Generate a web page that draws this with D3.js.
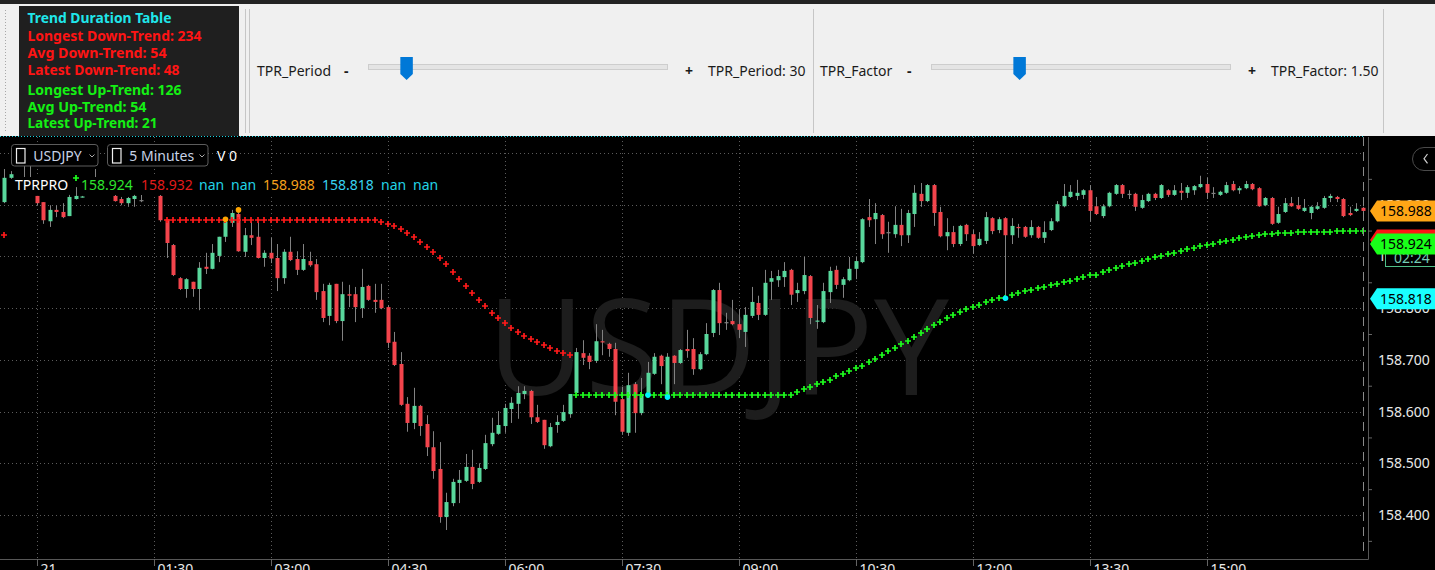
<!DOCTYPE html>
<html>
<head>
<meta charset="utf-8">
<script src="https://cdn.jsdelivr.net/npm/d3@7"></script>
<style>
  html, body { margin: 0; padding: 0; background: #000; overflow: hidden; }
  svg { display: block; }
</style>
</head>
<body>
<svg id="chart" width="1435" height="570"></svg>
<script>
// ─── data ────────────────────────────────────────────────────────────────
const symbol = 'USDJPY';
const timeframe = '5 Minutes';
const volumeLabel = 'V 0';
const indicatorName = 'TPRPRO';

const firstBarTime = '2024-06-20 23:35';
const barMinutes = 5;

// [open, high, low, close] per 5-minute bar
const ohlc = [
  [159.005,159.069,159.003,159.052],[159.052,159.065,159.050,159.059],[159.040,159.046,159.036,159.042],
  [159.036,159.075,159.028,159.048],[159.048,159.075,159.025,159.032],
  [159.017,159.017,158.999,159.003],[159.005,159.005,158.963,158.970],[158.968,158.999,158.957,158.990],
  [158.990,158.999,158.976,158.986],[158.986,159.003,158.974,158.976],[158.978,159.019,158.978,159.015],
  [159.011,159.034,159.010,159.017],[159.015,159.017,159.014,159.016],[159.030,159.046,159.028,159.040],
  [159.040,159.069,159.025,159.032],[159.032,159.036,159.026,159.030],[159.030,159.034,159.022,159.025],
  [159.017,159.019,159.006,159.007],[159.011,159.015,158.999,159.003],[159.003,159.015,158.996,159.013],
  [159.011,159.019,158.996,159.017],[159.009,159.019,159.005,159.009],[159.024,159.040,159.022,159.032],
  [159.032,159.042,159.022,159.024],[159.017,159.021,158.967,158.970],[158.972,158.972,158.897,158.926],
  [158.922,158.924,158.862,158.864],[158.858,158.860,158.835,158.837],[158.837,158.858,158.820,158.856],
  [158.851,158.851,158.822,158.837],[158.837,158.889,158.796,158.878],[158.880,158.907,158.866,158.876],
  [158.876,158.924,158.875,158.907],[158.901,158.938,158.889,158.938],[158.938,158.970,158.928,158.967],
  [158.965,158.990,158.957,158.984],[158.982,158.988,158.909,158.910],[158.909,158.955,158.899,158.941],
  [158.941,158.967,158.922,158.936],[158.938,158.967,158.896,158.897],[158.897,158.912,158.880,158.907],
  [158.907,158.936,158.887,158.896],[158.897,158.924,158.833,158.858],[158.858,158.914,158.847,158.909],
  [158.909,158.938,158.891,158.893],[158.895,158.910,158.864,158.874],[158.874,158.924,158.872,158.895],
  [158.891,158.909,158.880,158.883],[158.885,158.895,158.816,158.831],[158.833,158.847,158.773,158.781],
  [158.785,158.849,158.767,158.845],[158.847,158.847,158.771,158.775],[158.775,158.851,158.737,158.827],
  [158.827,158.845,158.802,158.824],[158.827,158.841,158.773,158.802],[158.800,158.876,158.781,158.841],
  [158.843,158.845,158.814,158.816],[158.816,158.847,158.791,158.812],[158.816,158.847,158.798,158.800],
  [158.802,158.806,158.723,158.733],[158.735,158.754,158.688,158.690],[158.692,158.715,158.611,158.613],
  [158.615,158.628,158.561,158.578],[158.578,158.646,158.566,158.611],[158.611,158.613,158.553,158.572],
  [158.576,158.593,158.514,158.531],[158.531,158.562,158.470,158.485],[158.489,158.541,158.385,158.396],
  [158.396,158.443,158.371,158.425],[158.423,158.470,158.417,158.464],[158.462,158.487,158.423,158.468],
  [158.466,158.518,158.464,158.493],[158.493,158.526,158.450,158.460],[158.464,158.500,158.462,158.491],
  [158.489,158.555,158.487,158.539],[158.537,158.588,158.533,158.559],[158.557,158.601,158.555,158.574],
  [158.572,158.615,158.559,158.607],[158.605,158.628,158.578,158.617],[158.615,158.649,158.586,158.636],
  [158.634,158.649,158.624,158.640],[158.640,158.642,158.576,158.589],[158.589,158.613,158.578,158.580],
  [158.584,158.584,158.528,158.535],[158.533,158.578,158.531,158.570],[158.574,158.593,158.559,158.580],
  [158.582,158.613,158.580,158.599],[158.595,158.634,158.588,158.634],[158.636,158.723,158.634,158.715],
  [158.713,158.738,158.690,158.704],[158.708,158.713,158.682,158.696],[158.698,158.769,158.694,158.736],
  [158.736,158.758,158.709,158.735],[158.731,158.733,158.706,158.721],[158.721,158.733,158.593,158.619],
  [158.624,158.648,158.555,158.561],[158.559,158.675,158.553,158.651],[158.653,158.657,158.559,158.597],
  [158.597,158.665,158.593,158.634],[158.634,158.696,158.632,158.675],[158.673,158.713,158.671,158.706],
  [158.708,158.710,158.653,158.688],[158.628,158.713,158.628,158.706],[158.708,158.709,158.653,158.694],
  [158.694,158.721,158.692,158.719],[158.721,158.758,158.704,158.717],[158.721,158.742,158.671,158.682],
  [158.682,158.715,158.680,158.711],[158.711,158.771,158.709,158.750],[158.752,158.837,158.744,158.835],
  [158.835,158.849,158.748,158.771],[158.773,158.791,158.758,158.773],[158.775,158.816,158.767,158.769],
  [158.769,158.798,158.742,158.758],[158.754,158.802,158.725,158.787],[158.785,158.841,158.781,158.812],
  [158.810,158.824,158.777,158.787],[158.787,158.874,158.785,158.849],[158.851,158.872,158.816,158.858],
  [158.854,158.874,158.841,158.862],[158.860,158.889,158.841,158.872],[158.874,158.876,158.806,158.826],
  [158.829,158.849,158.812,158.835],[158.833,158.899,158.827,158.864],[158.862,158.864,158.769,158.781],
  [158.775,158.806,158.760,158.776],[158.773,158.849,158.771,158.833],[158.831,158.880,158.810,158.872],
  [158.874,158.882,158.837,158.845],[158.845,158.860,158.820,158.856],[158.854,158.899,158.852,158.876],
  [158.876,158.899,158.856,158.891],[158.889,158.974,158.887,158.972],[158.976,159.011,158.957,158.970],
  [158.972,159.003,158.924,158.984],[158.980,158.982,158.934,158.943],[158.947,158.967,158.907,158.947],
  [158.943,158.997,158.936,158.961],[158.961,158.992,158.920,158.941],[158.941,158.990,158.926,158.984],
  [158.982,159.038,158.957,159.023],[159.021,159.042,158.996,159.007],[159.007,159.040,159.005,159.038],
  [159.038,159.040,158.959,158.984],[158.986,158.996,158.937,158.939],[158.939,158.974,158.912,158.947],
  [158.947,158.959,158.918,158.924],[158.924,158.961,158.920,158.959],[158.961,158.963,158.930,158.943],
  [158.943,158.951,158.905,158.920],[158.922,158.947,158.920,158.934],[158.930,158.986,158.924,158.976],
  [158.974,158.976,158.943,158.949],[158.951,158.976,158.945,158.972],[158.974,158.976,158.818,158.941],
  [158.941,158.974,158.924,158.959],[158.957,158.963,158.936,158.956],[158.957,158.959,158.936,158.938],
  [158.941,158.970,158.936,158.957],[158.957,158.959,158.934,158.936],[158.936,158.968,158.926,158.947],
  [158.951,158.974,158.949,158.968],[158.968,159.007,158.966,159.001],[158.997,159.040,158.995,159.017],
  [159.015,159.038,159.013,159.025],[159.017,159.048,159.009,159.023],[159.019,159.030,159.011,159.028],
  [159.028,159.038,158.967,158.988],[158.997,159.015,158.980,158.982],[158.978,159.001,158.974,158.997],
  [158.997,159.025,158.995,159.023],[159.021,159.040,159.019,159.038],[159.038,159.040,159.013,159.021],
  [159.021,159.028,159.011,159.021],[159.021,159.023,158.988,158.996],[158.994,159.019,158.992,159.009],
  [159.007,159.023,159.005,159.021],[159.021,159.023,159.009,159.013],[159.013,159.040,159.011,159.038],
  [159.028,159.030,159.015,159.019],[159.019,159.038,159.017,159.028],[159.027,159.042,159.009,159.023],
  [159.023,159.038,159.013,159.034],[159.028,159.038,159.019,159.036],[159.034,159.056,159.032,159.040],
  [159.040,159.052,159.011,159.023],[159.023,159.034,159.013,159.023],[159.019,159.027,159.017,159.025],
  [159.023,159.044,159.021,159.038],[159.040,159.046,159.026,159.028],[159.028,159.036,159.021,159.032],
  [159.032,159.046,159.030,159.040],[159.040,159.042,159.028,159.030],[159.032,159.034,158.996,158.997],
  [158.999,159.015,158.997,159.013],[159.013,159.015,158.961,158.963],[158.965,158.996,158.963,158.982],
  [158.986,159.013,158.984,159.003],[159.003,159.015,158.996,158.997],[158.999,159.015,158.990,158.992],
  [158.988,159.011,158.986,158.994],[158.984,158.998,158.972,158.996],[158.992,159.005,158.990,158.997],
  [158.994,159.017,158.992,159.013],[159.013,159.021,159.005,159.017],[159.015,159.017,159.005,159.011],
  [159.011,159.013,158.976,158.978],[158.984,158.996,158.978,158.980],[158.988,159.003,158.986,158.992],
  [158.994,158.996,158.986,158.988]
];

// TPR trailing line (one value per bar from its start time)
const downLineStart = '2024-06-21 01:40';
const downLine = [
  158.970,158.970,158.970,158.970,158.970,158.970,158.970,158.970,158.970,158.970,158.970,
  158.970,158.970,158.970,158.970,158.970,158.970,158.970,158.970,158.970,158.970,158.970,
  158.970,158.970,158.970,158.970,158.970,158.970,158.970,158.970,158.970,158.970,158.970,
  158.966,158.963,158.958,158.953,158.945,158.938,158.927,158.918,158.908,158.897,
  158.885,158.870,158.856,158.843,158.829,158.816,158.804,158.791,158.781,158.771,
  158.762,158.754,158.746,158.740,158.735,158.728,158.723,158.717,158.713,158.709
];
const upLineStart = '2024-06-21 06:55';
const upLine = [
  158.633,158.633,158.633,158.633,158.633,158.633,158.633,158.633,158.633,158.633,158.633,
  158.633,158.633,158.633,158.633,158.633,158.633,158.633,158.633,158.633,158.633,158.633,
  158.633,158.633,158.633,158.633,158.633,158.633,158.633,158.633,158.633,158.633,158.633,158.633,
  158.638,158.644,158.647,158.653,158.657,158.662,158.668,158.673,158.678,158.684,158.689,
  158.695,158.701,158.709,158.717,158.722,158.730,158.736,158.744,158.751,158.759,158.767,
  158.773,158.780,158.786,158.792,158.798,158.802,158.807,158.811,158.815,158.819,158.819,
  158.825,158.829,158.833,158.835,158.838,158.840,158.844,158.846,158.850,158.852,158.856,
  158.860,158.864,158.865,158.869,158.873,158.877,158.881,158.885,158.887,158.891,158.895,
  158.898,158.900,158.904,158.906,158.910,158.914,158.916,158.920,158.922,158.924,158.927,
  158.929,158.931,158.935,158.937,158.939,158.941,158.943,158.943,158.945,158.945,158.945,
  158.947,158.947,158.947,158.947,158.947,158.947,158.949,158.949,158.949,158.949,158.949
];
const loneCrosses = [['2024-06-20 23:35', 158.941, 'down'], ['2024-06-21 00:30', 159.052, 'up']];
const retestDots = [['2024-06-21 02:25', 158.972], ['2024-06-21 02:35', 158.990]];
const pivotDots = [['2024-06-21 07:50', 158.632], ['2024-06-21 08:05', 158.628], ['2024-06-21 12:25', 158.819]];

const priceTicks = [158.4, 158.5, 158.6, 158.7, 158.8, 158.9, 159.0];
const gridPrices = [158.4, 158.5, 158.6, 158.7, 158.8, 158.9, 159.0, 159.1];
const minorPrices = [158.35, 158.45, 158.55, 158.65, 158.75, 158.85, 158.95, 159.05];
const timeTicks = ['2024-06-21 00:00','2024-06-21 01:30','2024-06-21 03:00','2024-06-21 04:30',
  '2024-06-21 06:00','2024-06-21 07:30','2024-06-21 09:00','2024-06-21 10:30',
  '2024-06-21 12:00','2024-06-21 13:30','2024-06-21 15:00'];

const legendTexts = ['TPRPRO','158.924','158.932','nan','nan','158.988','158.818','nan','nan'];
const legendColors = ['#ffffff','#2ee52e','#e31b1b','#22d3e6','#22d3e6','#f5a01c','#38d2f2','#22d3e6','#22d3e6'];

const priceTags = [
  { v: 158.988, fill: '#ffa616', text: '158.988' },
  { v: 158.932, fill: '#ff1414', text: '158.932' },
  { v: 158.924, fill: '#19ff19', text: '158.924' },
  { v: 158.818, fill: '#19ffff', text: '158.818' }
];
const countdown = '02:24';

const tableTitle = 'Trend Duration Table';
const tableDown = ['Longest Down-Trend: 234', 'Avg Down-Trend: 54', 'Latest Down-Trend: 48'];
const tableUp = ['Longest Up-Trend: 126', 'Avg Up-Trend: 54', 'Latest Up-Trend: 21'];

const sliders = [
  { name: 'TPR_Period', value: 30, min: 20, max: 110, label: 'TPR_Period: 30' },
  { name: 'TPR_Factor', value: 1.5, min: 1.0, max: 2.75, label: 'TPR_Factor: 1.50' }
];

// ─── layout ──────────────────────────────────────────────────────────────
const UI = '"Noto Sans", "Open Sans", sans-serif';
const upColor = '#59d79c', downColor = '#f3444c', wickColor = '#828282';
const gridColor = '#5c5c5c';
const plotRight = 1365, axisX = 1368, axisY = 559, chartTop = 137;

const parseT = d3.timeParse('%Y-%m-%d %H:%M');
const addMin = (t, m) => new Date(+t + m * 60000);
const t0 = parseT(firstBarTime);

const bars = ohlc.map((d, k) => ({ t: addMin(t0, k * barMinutes), o: d[0], h: d[1], l: d[2], c: d[3] }));

const x = d3.scaleTime()
  .domain([addMin(bars[0].t, -0.69 * barMinutes), addMin(bars[bars.length - 1].t, 0.31 * barMinutes)])
  .range([0, plotRight]);
const y = d3.scaleLinear().domain([158.4, 159.1]).range([515, 153]);

const px = v => Math.round(v) + 0.5;

const svg = d3.select('#chart');
svg.append('rect').attr('width', 1435).attr('height', 570).attr('fill', '#000');

// ─── grid ────────────────────────────────────────────────────────────────
const grid = svg.append('g').attr('stroke', gridColor).attr('stroke-dasharray', '1,3');
grid.selectAll('line.h').data(gridPrices).join('line').attr('class', 'h')
  .attr('x1', 0).attr('x2', plotRight - 2)
  .attr('y1', d => px(y(d))).attr('y2', d => px(y(d)));
const tickDates = timeTicks.map(parseT);
grid.selectAll('line.v').data(tickDates).join('line').attr('class', 'v')
  .attr('x1', d => px(x(d))).attr('x2', d => px(x(d)))
  .attr('y1', chartTop).attr('y2', axisY);

// watermark
svg.append('text')
  .attr('x', 487).attr('y', 395)
  .attr('textLength', 462).attr('lengthAdjust', 'spacingAndGlyphs')
  .attr('fill', '#1d1d1d')
  .style('font-family', '"Open Sans", "Noto Sans", sans-serif')
  .style('font-size', '133px')
  .text(symbol);

// ─── candles ─────────────────────────────────────────────────────────────
const candleColor = d => d.c > d.o ? upColor : d.c < d.o ? downColor : wickColor;
const gC = svg.append('g');
gC.selectAll('line').data(bars).join('line')
  .attr('x1', d => px(x(d.t))).attr('x2', d => px(x(d.t)))
  .attr('y1', d => y(d.h)).attr('y2', d => y(d.l))
  .attr('stroke', wickColor).attr('stroke-width', 1);
gC.selectAll('rect').data(bars).join('rect')
  .attr('x', d => Math.round(x(d.t)) - 1.5)
  .attr('width', 4)
  .attr('y', d => Math.min(y(d.o), y(d.c)))
  .attr('height', d => Math.max(1.2, Math.abs(y(d.o) - y(d.c))))
  .attr('fill', candleColor);

// ─── TPR crosses ─────────────────────────────────────────────────────────
const crossPath = 'M-3,0H3M0,-3V3';
const crossData = [];
downLine.forEach((v, k) => crossData.push({ t: addMin(parseT(downLineStart), k * barMinutes), v, trend: 'down' }));
upLine.forEach((v, k) => crossData.push({ t: addMin(parseT(upLineStart), k * barMinutes), v, trend: 'up' }));
loneCrosses.forEach(d => crossData.push({ t: parseT(d[0]), v: d[1], trend: d[2] }));
svg.append('g').selectAll('path').data(crossData).join('path')
  .attr('d', crossPath)
  .attr('transform', d => `translate(${Math.round(x(d.t))},${Math.round(y(d.v))})`)
  .attr('stroke', d => d.trend === 'up' ? '#1eff1e' : '#ff1a1a')
  .attr('stroke-width', 1.7)
  .attr('fill', 'none');

svg.append('g').selectAll('circle').data(retestDots).join('circle')
  .attr('cx', d => x(parseT(d[0]))).attr('cy', d => y(d[1])).attr('r', 2.8).attr('fill', '#ffa500');
svg.append('g').selectAll('circle').data(pivotDots).join('circle')
  .attr('cx', d => x(parseT(d[0]))).attr('cy', d => y(d[1])).attr('r', 2.8).attr('fill', '#00f0ff');

// current-bar dashed marker
const lastX = px(x(bars[bars.length - 1].t));
svg.append('line')
  .attr('x1', lastX).attr('x2', lastX).attr('y1', chartTop).attr('y2', 555)
  .attr('stroke', '#8a8a8a').attr('stroke-dasharray', '9,6');

// ─── axes ────────────────────────────────────────────────────────────────
svg.append('line').attr('x1', axisX + 0.5).attr('x2', axisX + 0.5).attr('y1', chartTop).attr('y2', axisY + 0.5)
  .attr('stroke', '#575757');
svg.append('line').attr('x1', 0).attr('x2', axisX + 0.5).attr('y1', axisY + 0.5).attr('y2', axisY + 0.5)
  .attr('stroke', '#575757');

const fmtTick = d => (d.getHours() === 0 && d.getMinutes() === 0) ? d3.timeFormat('%d')(d) : d3.timeFormat('%H:%M')(d);
const gx = svg.append('g').attr('transform', `translate(0,${axisY})`)
  .call(d3.axisBottom(x).tickValues(tickDates).tickFormat(fmtTick).tickSize(7));
gx.select('.domain').remove();
gx.selectAll('.tick line').attr('stroke', '#666');
gx.selectAll('.tick text')
  .attr('text-anchor', 'start').attr('x', 3).attr('y', 5).attr('dy', '0.71em')
  .attr('fill', '#e8e8e8')
  .style('font-family', UI).style('font-size', '14px');

const gy = svg.append('g').attr('transform', `translate(${axisX},0)`)
  .call(d3.axisRight(y).tickValues(priceTicks).tickFormat(d3.format('.3f')).tickSize(0).tickPadding(10));
gy.select('.domain').remove();
gy.selectAll('.tick text').attr('fill', '#e8e8e8').style('font-family', UI).style('font-size', '14px');

const gyMinor = svg.append('g').attr('transform', `translate(${axisX},0)`)
  .call(d3.axisRight(y).tickValues(minorPrices).tickFormat('').tickSize(4));
gyMinor.select('.domain').remove();
gyMinor.selectAll('.tick line').attr('stroke', '#666');

// countdown box (under the tags)
svg.append('rect').attr('x', 1385.5).attr('y', 244.5).attr('width', 52).attr('height', 22)
  .attr('fill', '#000').attr('stroke', '#4fbf88');
svg.append('text').attr('x', 1394).attr('y', 262.5).attr('fill', '#74cdb5')
  .style('font-family', UI).style('font-size', '14px').text(countdown);

// price tags
const tags = svg.append('g').selectAll('g').data(priceTags).join('g')
  .attr('transform', d => `translate(0,${y(d.v)})`);
tags.append('path')
  .attr('d', 'M1370,0L1377,-10.5H1436V10.5H1377Z')
  .attr('fill', d => d.fill);
tags.append('text')
  .attr('x', 1380).attr('y', 5).attr('fill', '#000')
  .style('font-family', UI).style('font-size', '14px')
  .text(d => d.text);

// collapse button
svg.append('rect').attr('x', 1412.5).attr('y', 147.5).attr('width', 40).attr('height', 23).attr('rx', 11.5)
  .attr('fill', '#000').attr('stroke', '#4a4a4a');
svg.append('path').attr('d', 'M1427.5,154L1424,158.7L1427.5,163.4').attr('fill', 'none')
  .attr('stroke', '#cfcfcf').attr('stroke-width', 1.2);

// ─── chart header (symbol pickers + legend) ─────────────────────────────
const pickers = [
  { text: symbol, x: 11.5, w: 86.5 },
  { text: timeframe, x: 107.5, w: 100.5 }
];
const pk = svg.append('g').selectAll('g').data(pickers).join('g');
pk.append('rect').attr('x', d => d.x).attr('y', 144.5).attr('width', d => d.w).attr('height', 21.5).attr('rx', 3)
  .attr('fill', '#000').attr('stroke', '#5c5c5c');
pk.append('rect').attr('x', d => d.x + 5).attr('y', 148.5).attr('width', 8.5).attr('height', 14.5)
  .attr('fill', 'none').attr('stroke', '#f0f0f0').attr('stroke-width', 1.2);
pk.append('text').attr('x', d => d.x + 21.8).attr('y', 161).attr('fill', '#c8d2e6')
  .style('font-family', UI).style('font-size', '14px').text(d => d.text);
pk.append('path').attr('d', d => `M${d.x + d.w - 8.5},154.5l2.5,2.5l2.5,-2.5`)
  .attr('fill', 'none').attr('stroke', '#aaa');
svg.append('text').attr('x', 217).attr('y', 161).attr('fill', '#fff')
  .style('font-family', UI).style('font-size', '14px').text(volumeLabel);

const legendX = [15, 81, 141, 199, 231, 263, 322, 381, 413];
const legend = svg.append('g').selectAll('g').data(legendTexts).join('g');
legend.append('rect')
  .attr('x', (d, k) => legendX[k] - 1).attr('y', 177)
  .attr('height', 18).attr('fill', '#000');
legend.append('text')
  .attr('x', (d, k) => legendX[k]).attr('y', 190)
  .attr('fill', (d, k) => legendColors[k])
  .style('font-family', UI).style('font-size', '14px')
  .text(d => d);
legend.each(function () {
  const g = d3.select(this);
  const w = g.select('text').node().getComputedTextLength();
  g.select('rect').attr('width', w + 2);
});

// ─── top toolbar panel ───────────────────────────────────────────────────
const panel = svg.append('g');
panel.append('rect').attr('x', 0).attr('y', 0).attr('width', 1435).attr('height', 136).attr('fill', '#f0f0f0');
panel.append('rect').attr('x', 0).attr('y', 0).attr('width', 1435).attr('height', 4).attr('fill', '#232323');
panel.append('line').attr('x1', 5.5).attr('x2', 5.5).attr('y1', 10).attr('y2', 131)
  .attr('stroke', '#a8a8a8').attr('stroke-dasharray', '1,2');
panel.append('line').attr('x1', 0).attr('x2', plotRight).attr('y1', 136.5).attr('y2', 136.5)
  .attr('stroke', '#19d2e0').attr('stroke-dasharray', '1,2');

// trend duration table
panel.append('rect').attr('x', 19).attr('y', 6).attr('width', 220).attr('height', 130).attr('fill', '#1f1f1f');
const tableRows = [
  { text: tableTitle, color: '#1fe6ea', y: 23, w: 144 },
  { text: tableDown[0], color: '#ff1414', y: 40.5, w: 174 },
  { text: tableDown[1], color: '#ff1414', y: 57.5, w: 139 },
  { text: tableDown[2], color: '#ff1414', y: 74.5, w: 152 },
  { text: tableUp[0], color: '#14f014', y: 95, w: 154 },
  { text: tableUp[1], color: '#14f014', y: 111.7, w: 119 },
  { text: tableUp[2], color: '#14f014', y: 128.3, w: 130 }
];
panel.append('g').selectAll('text').data(tableRows).join('text')
  .attr('x', 27.5).attr('y', d => d.y)
  .attr('textLength', d => d.w).attr('lengthAdjust', 'spacingAndGlyphs')
  .attr('fill', d => d.color)
  .style('font-family', UI).style('font-size', '13.5px').style('font-weight', 'bold')
  .text(d => d.text);

// separators
[245.5, 249.5, 813.5, 1383.5].forEach(sx => {
  panel.append('line').attr('x1', sx).attr('x2', sx).attr('y1', 9).attr('y2', 133).attr('stroke', '#c6c6c6');
});

// sliders
const sliderX = [257, 820];
sliders.forEach((s, k) => {
  const g = panel.append('g').attr('transform', `translate(${sliderX[k]},0)`);
  const font = sel => sel.style('font-family', UI).style('font-size', '14px').attr('fill', '#1b1b1b');
  g.append('text').attr('x', 0).attr('y', 76).text(s.name).call(font);
  g.append('text').attr('x', 87).attr('y', 76).text('-').call(font).style('font-weight', 'bold');
  g.append('rect').attr('x', 111.5).attr('y', 64.5).attr('width', 299).attr('height', 5)
    .attr('fill', '#e4e4e4').attr('stroke', '#cdcdcd');
  const pos = d3.scaleLinear().domain([s.min, s.max]).range([111.5, 398]);
  const tx = pos(s.value);
  g.append('path')
    .attr('d', `M${tx},57H${tx + 12.5}V74L${tx + 6.25},80L${tx},74Z`)
    .attr('fill', '#0078d7');
  g.append('text').attr('x', 428).attr('y', 76).text('+').call(font).style('font-weight', 'bold');
  g.append('text').attr('x', 451).attr('y', 76).text(s.label).call(font);
});
</script>
</body>
</html>
